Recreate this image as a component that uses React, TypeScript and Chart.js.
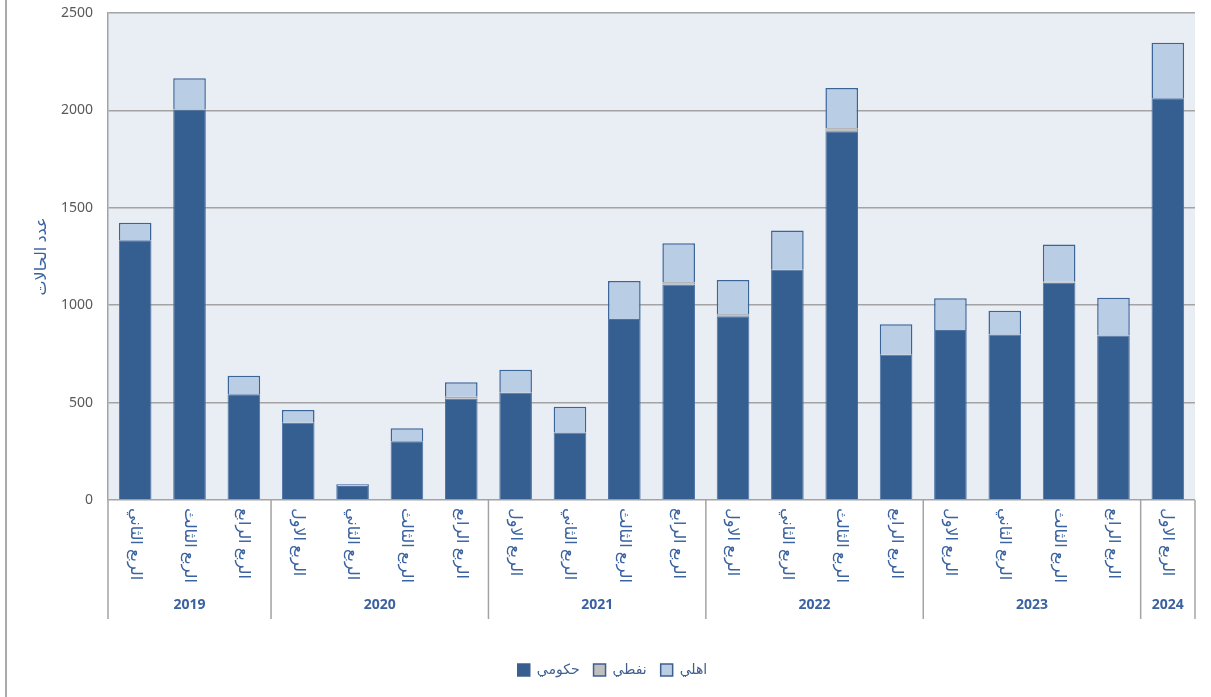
import { useEffect, useRef } from 'react';
import { Chart, registerables } from 'chart.js';

Chart.register(...registerables);

const quarterLabels = [
  'الربع الثاني', 'الربع الثالث', 'الربع الرابع',
  'الربع الاول', 'الربع الثاني', 'الربع الثالث', 'الربع الرابع',
  'الربع الاول', 'الربع الثاني', 'الربع الثالث', 'الربع الرابع',
  'الربع الاول', 'الربع الثاني', 'الربع الثالث', 'الربع الرابع',
  'الربع الاول', 'الربع الثاني', 'الربع الثالث', 'الربع الرابع',
  'الربع الاول',
];
const categoryYears = [
  '2019', '2019', '2019',
  '2020', '2020', '2020', '2020',
  '2021', '2021', '2021', '2021',
  '2022', '2022', '2022', '2022',
  '2023', '2023', '2023', '2023',
  '2024',
];
const governmentCases = [1333, 2005, 543, 397, 72, 302, 520, 550, 347, 929, 1106, 943, 1182, 1893, 746, 873, 849, 1115, 844, 2063];
const oilCases = [0, 0, 0, 0, 0, 0, 10, 0, 0, 0, 12, 10, 0, 15, 0, 0, 0, 6, 0, 0];
const privateCases = [90, 160, 95, 65, 9, 66, 75, 118, 132, 195, 200, 176, 201, 207, 156, 163, 122, 190, 194, 284];
const seriesNames = ['حكومي', 'نفطي', 'اهلي'];
const yAxisTitle = 'عدد الحالات';
const yMin = 0;
const yMax = 2500;
const yStep = 500;

const FONT = '"Noto Sans", "DejaVu Sans", sans-serif';
const BLUE_TEXT = '#3A62A0';
const GRID = '#A3A3A3';

const decorPlugin = {
  id: 'decor',
  beforeDraw(chart: any) {
    const { ctx, chartArea: a } = chart;
    ctx.save();
    ctx.fillStyle = '#E9EDF4';
    ctx.fillRect(a.left, a.top, a.right - a.left, a.bottom - a.top);
    ctx.strokeStyle = '#8E8E8E';
    ctx.lineWidth = 1.5;
    ctx.beginPath();
    ctx.moveTo(6, 0);
    ctx.lineTo(6, chart.height);
    ctx.stroke();
    ctx.restore();
  },
  afterDraw(chart: any) {
    const { ctx, chartArea: a } = chart;
    const x = chart.scales.x;
    const n = quarterLabels.length;
    const bounds: number[] = [a.left];
    const groups: { year: string; start: number; end: number }[] = [];
    let gStart = 0;
    for (let i = 1; i <= n; i++) {
      if (i === n || categoryYears[i] !== categoryYears[i - 1]) {
        groups.push({ year: categoryYears[i - 1], start: gStart, end: i - 1 });
        if (i < n) bounds.push((x.getPixelForValue(i - 1) + x.getPixelForValue(i)) / 2);
        gStart = i;
      }
    }
    bounds.push(a.right);
    ctx.save();
    ctx.strokeStyle = GRID;
    ctx.lineWidth = 1.5;
    bounds.forEach((bx) => {
      ctx.beginPath();
      ctx.moveTo(bx, a.bottom);
      ctx.lineTo(bx, a.bottom + 119);
      ctx.stroke();
    });
    ctx.fillStyle = BLUE_TEXT;
    ctx.font = `16px ${FONT}`;
    quarterLabels.forEach((q, i) => {
      ctx.save();
      ctx.translate(x.getPixelForValue(i), a.bottom + 8);
      ctx.rotate(Math.PI / 2);
      ctx.textAlign = 'left';
      ctx.textBaseline = 'middle';
      ctx.fillText(q, 0, 0);
      ctx.restore();
    });
    ctx.font = `bold 14px ${FONT}`;
    ctx.textAlign = 'center';
    ctx.textBaseline = 'middle';
    groups.forEach((g, gi) => {
      const cx = (bounds[gi] + bounds[gi + 1]) / 2;
      ctx.fillText(g.year, cx, a.bottom + 105);
    });
    ctx.restore();
  },
};

export default function App() {
  const canvasRef = useRef<HTMLCanvasElement | null>(null);

  useEffect(() => {
    if (!canvasRef.current) return;
    const chart = new Chart(canvasRef.current, {
      type: 'bar',
      data: {
        labels: quarterLabels,
        datasets: [
          {
            label: seriesNames[0],
            data: governmentCases,
            backgroundColor: '#355F91',
            borderColor: '#4D72A3',
            borderWidth: 1,
          },
          {
            label: seriesNames[1],
            data: oilCases,
            backgroundColor: '#BFBFBF',
            borderColor: '#8C8C8C',
            borderWidth: 1,
          },
          {
            label: seriesNames[2],
            data: privateCases,
            backgroundColor: '#B9CDE5',
            borderColor: '#3B6499',
            borderWidth: 1.5,
          },
        ],
      },
      options: {
        animation: false,
        responsive: true,
        maintainAspectRatio: false,
        layout: { padding: { left: 30, right: 16, top: 13, bottom: 10 } },
        datasets: { bar: { barPercentage: 0.6, categoryPercentage: 1.0 } },
        scales: {
          x: {
            stacked: true,
            grid: { display: false },
            border: { display: false },
            ticks: { display: false },
            afterFit: (s: any) => { s.height = 149; },
          },
          y: {
            stacked: true,
            min: yMin,
            max: yMax,
            ticks: {
              stepSize: yStep,
              padding: 15,
              color: '#595959',
              font: { family: FONT, size: 14 },
              callback: (v: any) => String(v),
            },
            grid: { color: GRID, lineWidth: 1.5, drawTicks: false },
            border: { display: true, color: GRID, width: 1.5 },
            title: {
              display: true,
              text: yAxisTitle,
              color: BLUE_TEXT,
              font: { family: FONT, size: 16 },
              padding: { top: 2, bottom: 0 },
            },
            afterFit: (s: any) => {
              s.width = 78;
              s.paddingTop = 0;
              s.paddingBottom = 0;
            },
          },
        },
        plugins: {
          tooltip: { enabled: false },
          legend: {
            position: 'bottom',
            labels: {
              boxWidth: 12,
              boxHeight: 12,
              padding: 14,
              color: '#3F5F8F',
              font: { family: FONT, size: 14 },
              generateLabels: (c: any) =>
                Chart.defaults.plugins.legend.labels.generateLabels(c).map((l: any) => ({
                  ...l,
                  strokeStyle: '#3E5F8E',
                  lineWidth: 1.5,
                })),
            },
          },
        },
      },
      plugins: [decorPlugin],
    } as any);
    return () => chart.destroy();
  }, []);

  return (
    <div style={{ position: 'absolute', left: 0, top: 0, width: 1211, height: 697, background: '#fff' }}>
      <canvas ref={canvasRef} />
    </div>
  );
}
